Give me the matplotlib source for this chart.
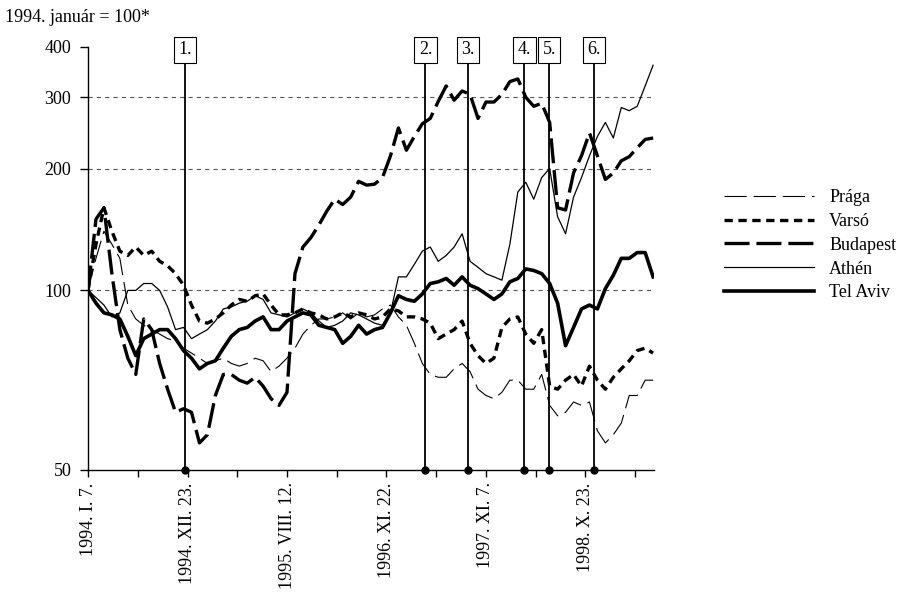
import numpy as np
import matplotlib.pyplot as plt
from matplotlib.ticker import NullLocator

plt.rcParams['font.family'] = ['Liberation Serif', 'DejaVu Serif']
plt.rcParams['lines.scale_dashes'] = False

# weekly observations, every 4th week since 1994-01-07
weeks = np.arange(0, 285, 4)

praga = [100, 120, 140, 130, 120, 92, 85, 82, 80, 78,
         76, 75, 72, 70, 68, 66, 67, 68, 66, 65,
         66, 68, 67, 63, 65, 68, 72, 78, 82, 85,
         85, 86, 88, 85, 88, 86, 87, 90, 92, 86,
         82, 74, 66, 62, 61, 61, 64, 66, 63, 57,
         55, 54, 56, 60, 60, 57, 57, 62, 52, 49,
         50, 53, 52, 53, 45, 42, 44, 47, 55, 55,
         60, 60]
varso = [100, 130, 160, 140, 125, 122, 128, 122, 125, 118,
         115, 110, 103, 92, 84, 83, 85, 88, 92, 95,
         94, 97, 98, 92, 87, 87, 88, 90, 88, 87,
         85, 86, 88, 86, 88, 87, 85, 86, 90, 89,
         86, 86, 85, 83, 76, 78, 80, 84, 74, 69,
         66, 68, 81, 85, 86, 78, 74, 80, 58, 57,
         60, 62, 58, 65, 60, 57, 61, 64, 67, 71,
         72, 70]
budapest = [100, 150, 160, 110, 80, 68, 62, 85, 80, 66,
            57, 50, 51, 50, 42, 44, 55, 62, 62, 60,
            59, 61, 58, 54, 52, 56, 110, 128, 135, 145,
            157, 168, 163, 170, 186, 182, 183, 190, 215, 252,
            222, 240, 258, 266, 293, 320, 295, 311, 305, 266,
            292, 292, 305, 328, 333, 300, 285, 290, 260, 160,
            158, 195, 215, 245, 215, 188, 195, 209, 214, 225,
            236, 238]
athen = [100, 96, 92, 86, 88, 100, 100, 104, 104, 100,
         91, 80, 81, 76, 78, 80, 84, 90, 91, 93,
         94, 97, 95, 88, 87, 86, 88, 90, 88, 84,
         81, 82, 84, 88, 87, 85, 83, 82, 88, 108,
         108, 116, 125, 128, 118, 122, 128, 138, 118, 114,
         110, 108, 106, 130, 175, 185, 168, 190, 200, 152,
         138, 170, 190, 215, 240, 260, 238, 283, 278, 285,
         320, 360]
tel_aviv = [100, 93, 88, 87, 85, 77, 69, 76, 78, 80,
            80, 76, 71, 68, 64, 66, 67, 72, 77, 80,
            81, 84, 86, 80, 80, 84, 86, 88, 87, 82,
            81, 80, 74, 77, 82, 78, 80, 81, 88, 97,
            95, 94, 98, 104, 105, 107, 103, 108, 103, 101,
            98, 95, 98, 105, 107, 113, 112, 110, 104, 93,
            73, 81, 90, 92, 90, 101, 109, 120, 120, 124,
            124, 108]

tick_weeks = [0, 50, 100, 150, 200, 250]
tick_labels = ['1994. I. 7.', '1994. XII. 23.', '1995. VIII. 12.',
               '1996. XI. 22.', '1997. XI. 7.', '1998. X. 23.']
minor_weeks = [25, 75, 125, 175, 225, 275]
event_weeks = [48.7, 169.6, 191.1, 219.3, 231.8, 254.3]
event_labels = ['1.', '2.', '3.', '4.', '5.', '6.']
y_floor = 36          # bottom of the axis, labelled 50
y_ticks = [y_floor, 100, 200, 300, 400]
y_labels = ['50', '100', '200', '300', '400']
grid_levels = [100, 200, 300]

series = [
    ('Prága', praga, dict(lw=0.8, dashes=(16, 5))),
    ('Varsó', varso, dict(lw=2.4, dashes=(6, 4))),
    ('Budapest', budapest, dict(lw=2.4, dashes=(18, 5))),
    ('Athén', athen, dict(lw=0.9)),
    ('Tel Aviv', tel_aviv, dict(lw=2.6)),
]

fs = 13

fig = plt.figure(figsize=(9, 5.95), dpi=100)
ax = fig.add_axes([0.0978, 0.2101, 0.629, 0.7114])

for lvl in grid_levels:
    ax.axhline(lvl, color='#555555', lw=0.8, ls=(0, (3, 3)), zorder=0)

handles = []
for name, vals, st in series:
    h, = ax.plot(weeks, vals, color='black', label=name, **st)
    handles.append(h)

ax.set_yscale('log')
ax.set_ylim(y_floor, 400)
ax.set_xlim(0, 284.5)
ax.set_yticks(y_ticks)
ax.set_yticklabels(y_labels)
ax.yaxis.set_minor_locator(NullLocator())
ax.set_xticks(tick_weeks)
ax.set_xticklabels(tick_labels, rotation=90, va='top', ha='center')
ax.set_xticks(minor_weeks, minor=True)

for side in ['top', 'right']:
    ax.spines[side].set_visible(False)
for side in ['left', 'bottom']:
    ax.spines[side].set_linewidth(1.0)
ax.tick_params(axis='y', length=6, width=1, pad=6, labelsize=fs)
ax.tick_params(axis='x', which='both', length=5, width=1, pad=4, labelsize=fs)

# event markers with numbered boxes above the plot
trans = ax.get_xaxis_transform()
for w, lab in zip(event_weeks, event_labels):
    ax.plot([w, w], [0, 0.99], transform=trans, color='black', lw=1.3,
            clip_on=False, zorder=4)
    ax.plot([w], [0], 'o', color='black', ms=5, transform=trans,
            clip_on=False, zorder=5)
    ax.text(w, 0.993, lab, transform=trans, ha='center', va='center',
            fontsize=fs, zorder=6,
            bbox=dict(boxstyle='square,pad=0.25', fc='white', ec='black', lw=0.8))

fig.text(0.006, 1 - 18 / 595, '1994. január = 100*', fontsize=fs, va='center')

ax.legend(handles=handles, loc='upper left',
          bbox_to_anchor=(724 / 900, 1 - 189 / 595), bbox_transform=fig.transFigure,
          frameon=False, fontsize=fs, handlelength=5.0, handletextpad=0.83,
          labelspacing=0.38, borderpad=0, borderaxespad=0)

fig.savefig('out.png', dpi=100)
